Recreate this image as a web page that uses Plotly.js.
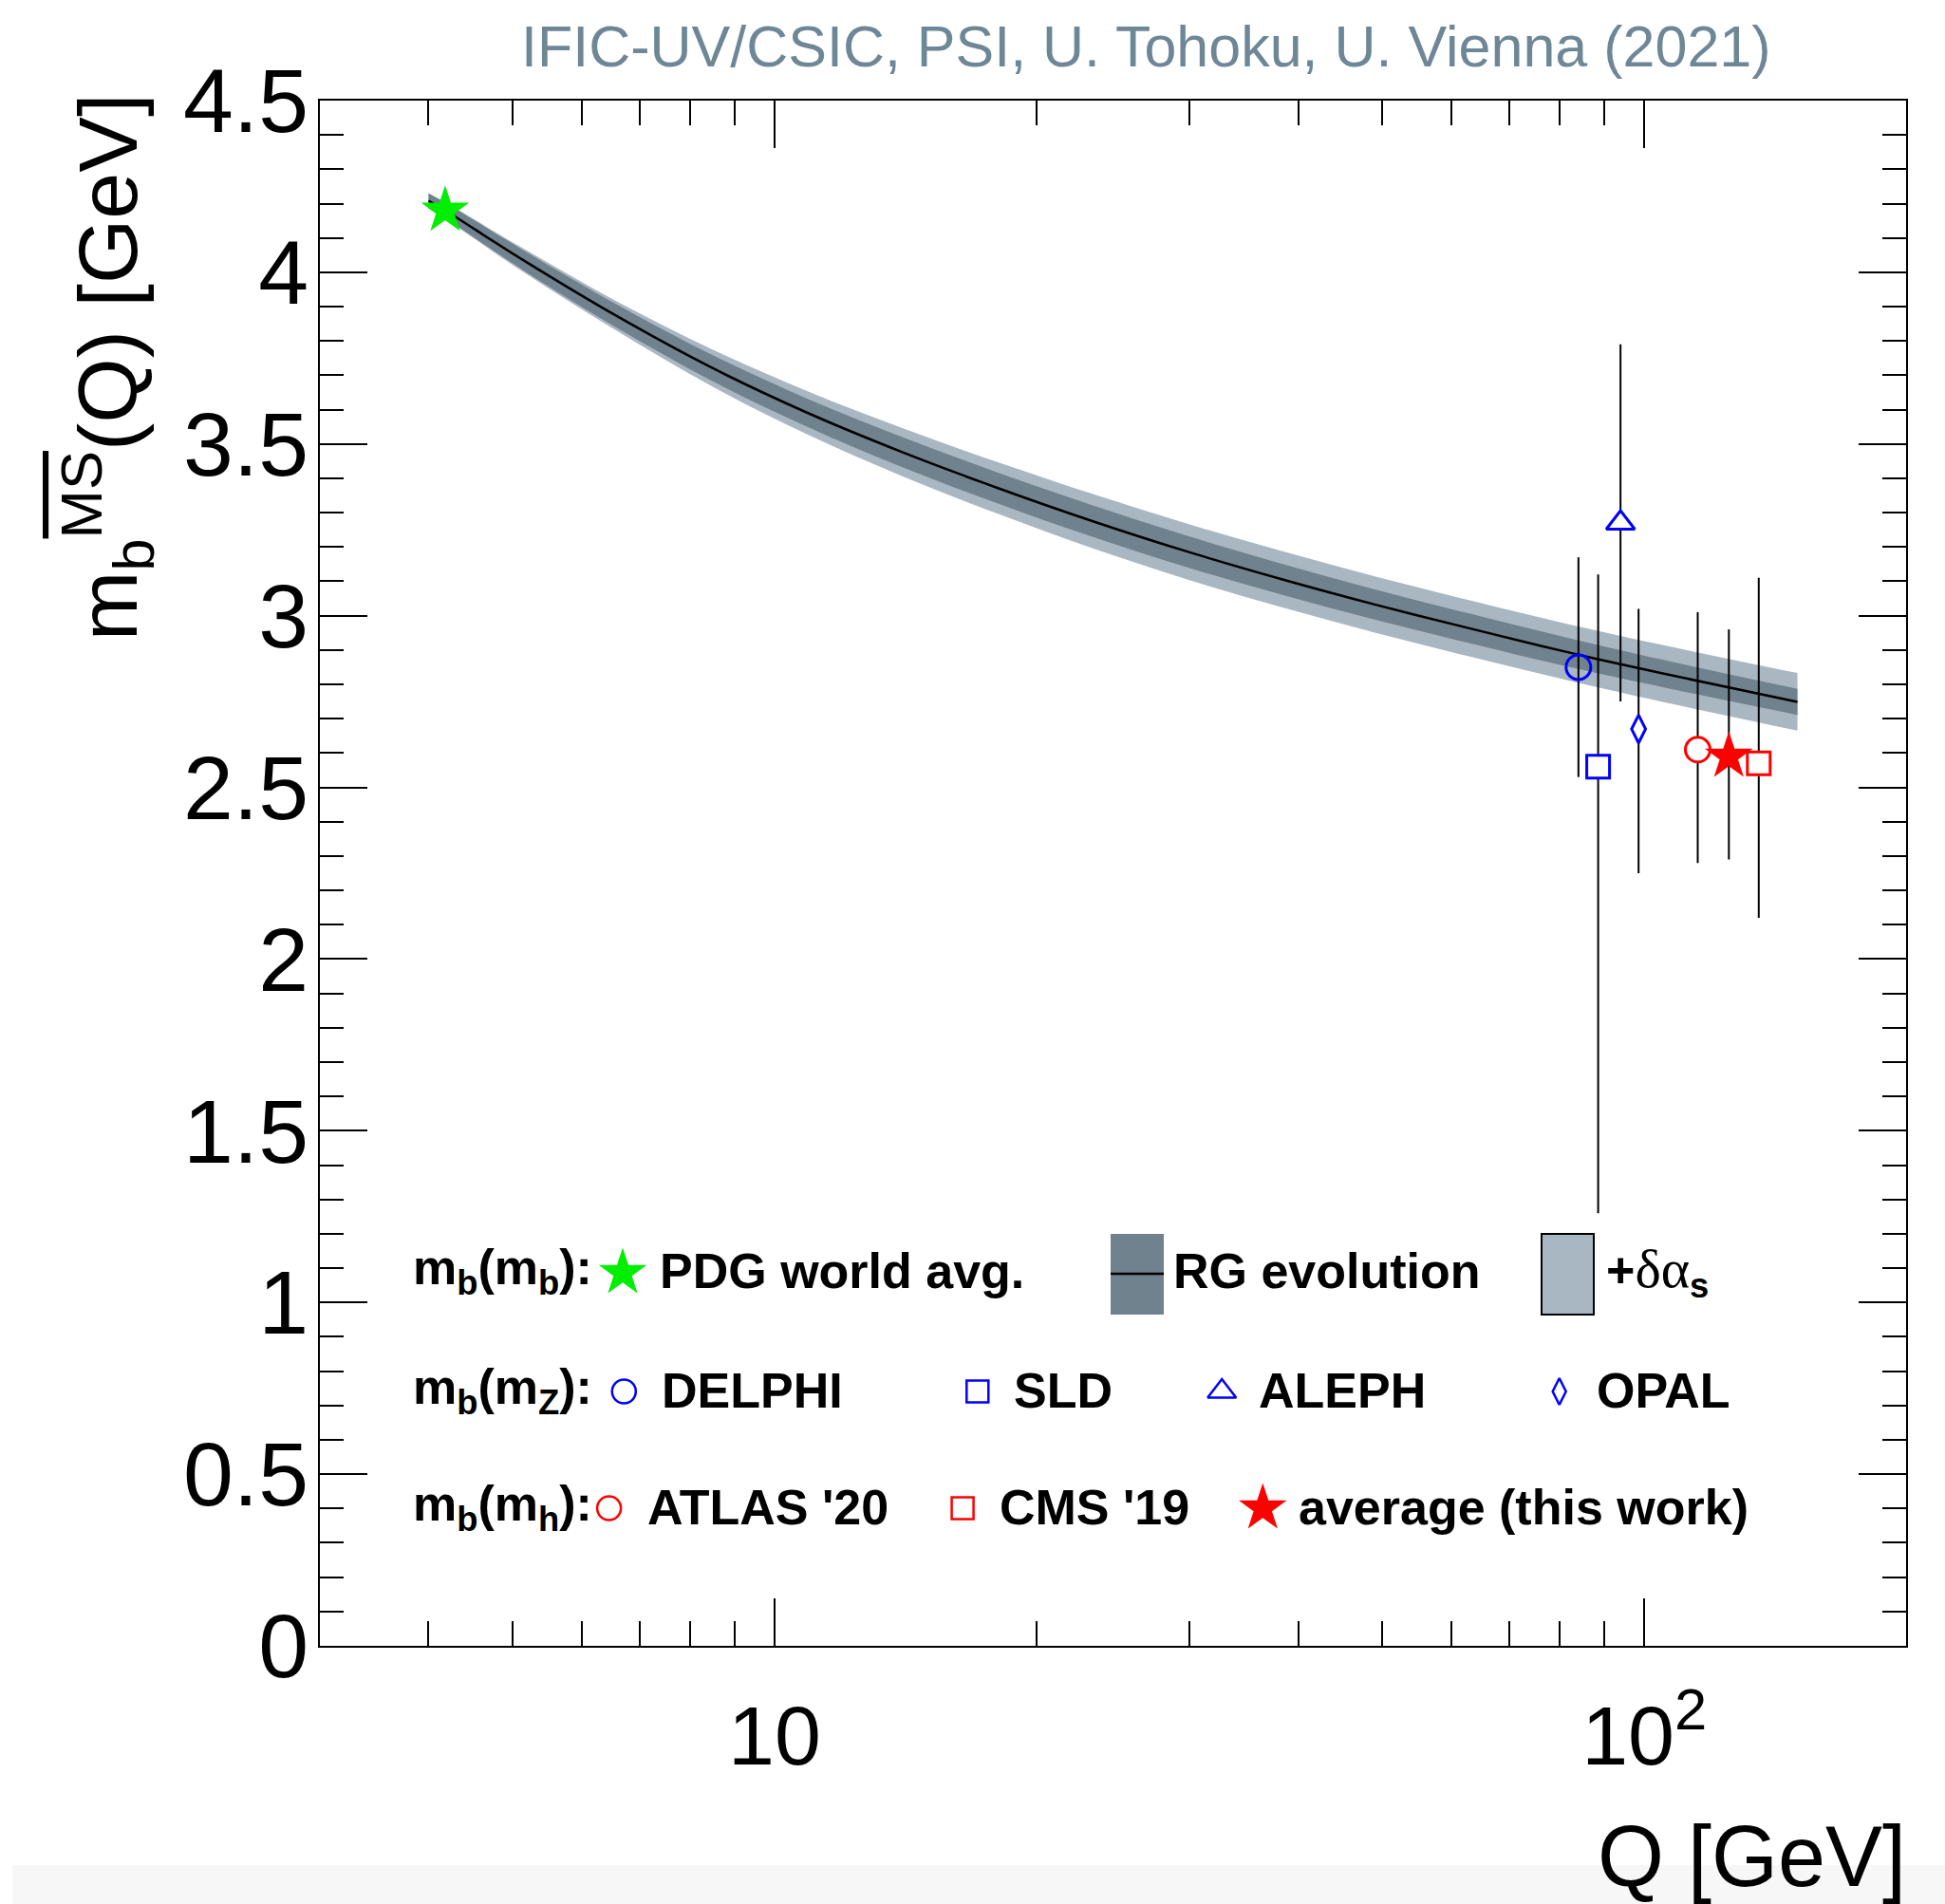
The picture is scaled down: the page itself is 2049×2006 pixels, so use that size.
<!DOCTYPE html>
<html><head><meta charset="utf-8">
<script src="https://cdn.plot.ly/plotly-3.0.1.min.js"></script>
<style>html,body{margin:0;padding:0;background:#fff}</style>
</head><body>
<div id="chart" style="width:2049px;height:2006px"></div>
<script>
// ---------------- data ----------------
// RG evolution of m_b(Q): central value and half-widths of the two bands
const bandQ     = [4.0, 4.18, 5.12, 6.59, 8.47, 10.88, 14.0, 18.0, 23.1, 29.7, 38.2, 49.1, 63.2, 81.2, 104.4, 150];
const bandM     = [4.208, 4.18, 4.038, 3.872, 3.722, 3.592, 3.477, 3.373, 3.277, 3.188, 3.107, 3.032, 2.962, 2.895, 2.833, 2.749];
const darkHalf  = [0.022, 0.023, 0.029, 0.034, 0.038, 0.041, 0.044, 0.045, 0.046, 0.046, 0.045, 0.044, 0.043, 0.042, 0.040, 0.038];
const lightHalf = [0.022, 0.024, 0.034, 0.043, 0.054, 0.063, 0.070, 0.075, 0.079, 0.081, 0.082, 0.082, 0.082, 0.082, 0.083, 0.084];

// m_b(m_b): PDG world average
const pdgQ = [4.18];
const pdgM = [4.18];

// m_b(m_Z): LEP / SLC
const zNames = ['DELPHI', 'SLD', 'ALEPH', 'OPAL'];
const zQ     = [84.0, 88.5, 93.9, 98.5];
const zM     = [2.85, 2.56, 3.27, 2.67];
const zUp    = [0.32, 0.56, 0.52, 0.35];
const zDown  = [0.32, 1.30, 0.52, 0.42];

// m_b(m_h): LHC and average
const hNames = ["ATLAS '20", 'average (this work)', "CMS '19"];
const hQ     = [115.2, 125.1, 135.4];
const hM     = [2.61, 2.59, 2.57];
const hUp    = [0.40, 0.37, 0.54];
const hDown  = [0.33, 0.30, 0.45];

const xTickVals  = [10, 100];
const xTickText  = ['10', '10<sup>2</sup>'];
const xMinorVals = [4, 5, 6, 7, 8, 9, 20, 30, 40, 50, 60, 70, 80, 90];

// ---------------- helpers ----------------
const L = 337, R = 2008, T = 106, B = 1734;
const px = x => (x - L) / (R - L);
const py = y => (B - y) / (B - T);
const add = (a, b) => a.map((v, i) => v + b[i]);
const sub = (a, b) => a.map((v, i) => v - b[i]);

const DARK = '#6f828e', LIGHT = '#a9b7c2', BLUE = '#0000ff', RED = '#ff0000', GREEN = '#00ee00';
const FONT = 'Liberation Sans, Arial, Helvetica, sans-serif';

const traces = [];
// light band
traces.push({x: bandQ, y: sub(bandM, lightHalf), mode: 'lines', line: {width: 0, shape: 'spline'}, hoverinfo: 'skip', showlegend: false});
traces.push({x: bandQ, y: add(bandM, lightHalf), mode: 'lines', line: {width: 0, shape: 'spline'}, fill: 'tonexty', fillcolor: LIGHT, hoverinfo: 'skip', showlegend: false});
// dark band
traces.push({x: bandQ, y: sub(bandM, darkHalf), mode: 'lines', line: {width: 0, shape: 'spline'}, hoverinfo: 'skip', showlegend: false});
traces.push({x: bandQ, y: add(bandM, darkHalf), mode: 'lines', line: {width: 0, shape: 'spline'}, fill: 'tonexty', fillcolor: DARK, hoverinfo: 'skip', showlegend: false});
// central line
traces.push({x: bandQ, y: bandM, mode: 'lines', line: {color: '#000', width: 2.5, shape: 'spline'}, name: 'RG evolution', showlegend: false});

const zSymbols = ['circle-open', 'square', 'triangle-up', 'diamond-tall'];
const zSizes = [26, 24, 26, 21];
for (let i = 0; i < zQ.length; i++) {
  traces.push({
    x: [zQ[i]], y: [zM[i]], mode: 'markers', name: zNames[i], showlegend: false,
    error_y: {type: 'data', symmetric: false, array: [zUp[i]], arrayminus: [zDown[i]], width: 0, thickness: 2, color: '#000'},
    marker: {symbol: zSymbols[i], size: zSizes[i], color: i === 0 ? BLUE : '#fff', line: {color: BLUE, width: 3}}
  });
}
const hSymbols = ['circle', 'star', 'square'];
const hSizes = [26, 38, 24];
for (let i = 0; i < hQ.length; i++) {
  const filled = hSymbols[i] === 'star';
  traces.push({
    x: [hQ[i]], y: [hM[i]], mode: 'markers', name: hNames[i], showlegend: false,
    error_y: {type: 'data', symmetric: false, array: [hUp[i]], arrayminus: [hDown[i]], width: 0, thickness: 2, color: '#000'},
    marker: {symbol: hSymbols[i], size: hSizes[i], color: filled ? RED : '#fff', line: {color: RED, width: filled ? 0 : 3}}
  });
}
traces.push({x: pdgQ, y: pdgM, mode: 'markers', name: 'PDG world avg.', showlegend: false,
  marker: {symbol: 'star', size: 38, color: GREEN, line: {width: 0}}});

// ---------------- legend (drawn in an overlay frame, paper units) ----------------
const legMarkers = [
  {x: 656,    y: 1341, symbol: 'star',              size: 38, color: GREEN, lc: GREEN, lw: 0},
  {x: 657.3,  y: 1466, symbol: 'circle-open',       size: 25, color: BLUE,  lc: BLUE,  lw: 2.5},
  {x: 1029.8, y: 1466, symbol: 'square-open',       size: 23, color: BLUE,  lc: BLUE,  lw: 2.5},
  {x: 1287.2, y: 1466, symbol: 'triangle-up-open',  size: 26, color: BLUE,  lc: BLUE,  lw: 2.5},
  {x: 1642.7, y: 1466, symbol: 'diamond-tall-open', size: 20, color: BLUE,  lc: BLUE,  lw: 2.5},
  {x: 641.6,  y: 1589, symbol: 'circle-open',       size: 25, color: RED,   lc: RED,   lw: 2.5},
  {x: 1014.1, y: 1589, symbol: 'square-open',       size: 23, color: RED,   lc: RED,   lw: 2.5},
  {x: 1330.3, y: 1589, symbol: 'star',              size: 38, color: RED,   lc: RED,   lw: 0}
];
legMarkers.forEach(m => traces.push({
  x: [px(m.x)], y: [py(m.y)], xaxis: 'x2', yaxis: 'y2', mode: 'markers', showlegend: false, hoverinfo: 'skip',
  marker: {symbol: m.symbol, size: m.size, color: m.color, line: {color: m.lc, width: m.lw}}, cliponaxis: false
}));

const LEGF = {family: FONT, size: 52, color: '#000'};
const legText = [
  [435, 1339, '<b>m<sub>b</sub>(m<sub>b</sub>):</b>'],
  [695, 1339, '<b>PDG world avg.</b>'],
  [1236, 1339, '<b>RG evolution</b>'],
  [1692, 1339, "<b>+</b><span style='font-family:Liberation Serif;font-size:58px'>δα</span><sub><b>s</b></sub>"],
  [435, 1465, '<b>m<sub>b</sub>(m<sub>Z</sub>):</b>'],
  [696.5, 1465, '<b>DELPHI</b>'],
  [1067.7, 1465, '<b>SLD</b>'],
  [1326.4, 1465, '<b>ALEPH</b>'],
  [1681.9, 1465, '<b>OPAL</b>'],
  [435, 1588, '<b>m<sub>b</sub>(m<sub>h</sub>):</b>'],
  [682.2, 1588, "<b>ATLAS '20</b>"],
  [1053.3, 1588, "<b>CMS '19</b>"],
  [1368.2, 1588, '<b>average (this work)</b>']
];
const annotations = legText.map(t => ({
  xref: 'paper', yref: 'paper', x: px(t[0]), y: py(t[1]), xanchor: 'left', yanchor: 'middle',
  text: t[2], showarrow: false, font: LEGF, borderpad: 0, borderwidth: 0
}));
annotations.push({xref: 'paper', yref: 'paper', x: px(1207.5), y: py(49), xanchor: 'center', yanchor: 'middle',
  text: 'IFIC-UV/CSIC, PSI, U. Tohoku, U. Vienna (2021)', showarrow: false,
  font: {family: FONT, size: 61, color: '#6e8797'}});
annotations.push({xref: 'paper', yref: 'paper', x: px(2008), y: py(1956), xanchor: 'right', yanchor: 'middle',
  text: 'Q [GeV]', showarrow: false, font: {family: FONT, size: 90, color: '#000'}, borderpad: 0, borderwidth: 0});
annotations.push({xref: 'paper', yref: 'paper', x: px(113), y: py(99), xanchor: 'center', yanchor: 'top', textangle: -90,
  text: "m<sub>b</sub><sup><span style='text-decoration:overline'>MS</span></sup>(Q) [GeV]", showarrow: false,
  font: {family: FONT, size: 88, color: '#000'}, borderpad: 0, borderwidth: 0});

const shapes = [
  {type: 'rect', xref: 'paper', yref: 'paper', x0: px(13), x1: px(2060), y0: py(1965), y1: py(2010), fillcolor: '#f7f7f7', line: {width: 0}, layer: 'below'},
  {type: 'rect', xref: 'paper', yref: 'paper', x0: px(1170), x1: px(1226), y0: py(1385), y1: py(1300), fillcolor: DARK, line: {width: 0}},
  {type: 'line', xref: 'paper', yref: 'paper', x0: px(1170), x1: px(1226), y0: py(1342), y1: py(1342), line: {color: '#000', width: 2.5}},
  {type: 'rect', xref: 'paper', yref: 'paper', x0: px(1624), x1: px(1679), y0: py(1385), y1: py(1300), fillcolor: LIGHT, line: {color: '#000', width: 2}}
];

const layout = {
  width: 2049, height: 2006,
  margin: {l: L, r: 2049 - R, t: T, b: 2006 - B, pad: 0},
  paper_bgcolor: '#fff', plot_bgcolor: '#fff',
  font: {family: FONT, color: '#000'},
  showlegend: false,
  xaxis: {
    type: 'log', range: [Math.log10(3), Math.log10(200)], autorange: false,
    showline: true, linecolor: '#000', linewidth: 2, mirror: 'ticks',
    ticks: 'inside', ticklen: 50, tickwidth: 2, tickcolor: '#000',
    tickmode: 'array', tickvals: xTickVals, ticktext: xTickText,
    tickfont: {family: FONT, size: 88, color: '#000'}, ticklabelstandoff: 17,
    showgrid: false, zeroline: false,
    minor: {tickmode: 'array', tickvals: xMinorVals, ticks: 'inside', ticklen: 26, tickwidth: 2, tickcolor: '#000', showgrid: false}
  },
  yaxis: {
    range: [0, 4.5], autorange: false,
    showline: true, linecolor: '#000', linewidth: 2, mirror: 'ticks',
    ticks: 'inside', ticklen: 50, tickwidth: 2, tickcolor: '#000',
    dtick: 0.5, tick0: 0,
    tickfont: {family: FONT, size: 95, color: '#000'}, ticklabelstandoff: -9,
    showgrid: false, zeroline: false,
    minor: {dtick: 0.1, ticks: 'inside', ticklen: 25, tickwidth: 2, tickcolor: '#000', showgrid: false}
  },
  xaxis2: {overlaying: 'x', anchor: 'y2', range: [0, 1], autorange: false, visible: false, fixedrange: true},
  yaxis2: {overlaying: 'y', anchor: 'x2', range: [0, 1], autorange: false, visible: false, fixedrange: true},
  annotations: annotations,
  shapes: shapes
};

Plotly.newPlot('chart', traces, layout, {displayModeBar: false, staticPlot: true});
</script>
</body></html>
